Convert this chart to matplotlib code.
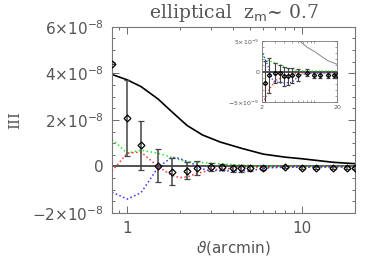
import numpy as np
import matplotlib
matplotlib.use('Agg')
import matplotlib.pyplot as plt
from matplotlib.ticker import MultipleLocator, FuncFormatter, NullFormatter, FixedLocator

# data (y values in units of 1e-8)
theta_pts = [0.82, 1.0, 1.2, 1.5, 1.8, 2.2, 2.5, 3.0, 3.5, 4.0, 4.5, 5.0, 6.0, 8.0, 10.0, 12.0, 15.0, 18.0, 20.0]
sig_pts = [4.4, 2.09, 0.91, 0.04, -0.22, -0.18, -0.06, -0.02, -0.03, -0.08, -0.08, -0.06, -0.06, -0.02, -0.05, -0.05, -0.05, -0.05, -0.05]
err_pts = [0.0, 1.63, 1.06, 0.72, 0.58, 0.36, 0.29, 0.16, 0.14, 0.15, 0.14, 0.12, 0.10, 0.06, 0.05, 0.05, 0.05, 0.05, 0.05]

theta_model = [0.82, 1.0, 1.2, 1.5, 1.8, 2.2, 2.7, 3.4, 4.5, 6.0, 8.0, 10.0, 15.0, 20.0]
model = [3.95, 3.72, 3.43, 2.9, 2.35, 1.76, 1.35, 1.05, 0.78, 0.53, 0.40, 0.33, 0.18, 0.12]

theta_green = [0.82, 1.0, 1.2, 1.5, 1.8, 2.2, 3.0, 4.0, 5.4, 8.0, 20.0]
green = [1.17, 0.57, 0.70, 0.57, 0.39, 0.20, 0.145, 0.08, 0.02, 0.01, 0.01]

theta_red = [0.82, 1.0, 1.2, 1.5, 1.8, 2.0, 2.2, 2.5, 3.0, 4.0, 5.0, 8.0, 20.0]
red = [-0.2, 0.57, 0.62, 0.0, -0.38, -0.48, -0.45, -0.3, -0.15, -0.08, -0.04, -0.02, -0.02]

theta_blue = [0.82, 1.0, 1.2, 1.5, 1.8, 2.0, 2.4, 2.8, 3.5, 5.0, 6.4, 8.0, 20.0]
blue = [-1.1, -1.4, -1.13, -0.05, 0.4, 0.34, 0.1, -0.15, -0.19, -0.18, -0.06, -0.03, -0.02]

scale = 1e-8
sig_pts = np.array(sig_pts) * scale
err_pts = np.array(err_pts) * scale
model = np.array(model) * scale
green = np.array(green) * scale
red = np.array(red) * scale
blue = np.array(blue) * scale

gray = '#555555'
c_green, c_red, c_blue = '#22ee22', '#ff3333', '#3333ff'

plt.rcParams['mathtext.fontset'] = 'dejavusans'

fig = plt.figure(figsize=(3.74, 2.67), dpi=100)
ax = fig.add_axes([0.2995, 0.202, 0.6495, 0.698])


def draw(a, curve_color, curve_lw, ms, cap, elw, dot_lw):
    a.axhline(0, color='#333333', lw=1.2, zorder=1)
    a.plot(theta_model, model, color=curve_color, lw=curve_lw, zorder=2)
    a.plot(theta_green, green, ':', color=c_green, lw=dot_lw, zorder=2)
    a.plot(theta_red, red, ':', color=c_red, lw=dot_lw, zorder=2)
    a.plot(theta_blue, blue, ':', color=c_blue, lw=dot_lw, zorder=2)
    a.errorbar(theta_pts, sig_pts, yerr=err_pts, fmt='D', color='black',
               ecolor='#444444', elinewidth=elw, capsize=cap, capthick=elw,
               markersize=ms, mfc='none', mew=0.9, zorder=3)


def sci(v, exp):
    n = int(round(v / 10.0 ** exp))
    if n == 0:
        return '0'
    sign = '\u2212' if n < 0 else ''
    return sign + '%d\u00d710$^{\u2212%d}$' % (abs(n), -exp)


draw(ax, 'black', 1.2, 3.5, 2.2, 1.1, 1.1)
ax.set_xscale('log')
ax.set_xlim(0.82, 20)
ax.set_ylim(-2e-8, 6e-8)
ax.yaxis.set_major_locator(MultipleLocator(2e-8))
ax.yaxis.set_minor_locator(MultipleLocator(0.5e-8))
ax.yaxis.set_major_formatter(FuncFormatter(lambda v, p: sci(v, -8)))
ax.xaxis.set_major_formatter(FuncFormatter(lambda v, p: '%d' % v))
ax.xaxis.set_minor_formatter(NullFormatter())
ax.tick_params(which='both', direction='in', top=True, right=True,
               colors=gray, labelcolor=gray, labelsize=11, width=0.6)
ax.tick_params(which='major', length=5, pad=6)
ax.tick_params(which='minor', length=2.5)
for s in ax.spines.values():
    s.set_color('#777777')
    s.set_linewidth(0.8)

ax.set_xlabel(r'$\vartheta$(arcmin)', fontsize=11, color=gray, labelpad=2)
ax.set_ylabel('III', fontsize=11, color=gray, family='DejaVu Serif')
ax.yaxis.set_label_coords(-0.37, 0.5)
ax.set_title(r'elliptical  z$_\mathrm{m}$~ 0.7', fontsize=13.5, color=gray,
             family='DejaVu Serif', pad=6)

# inset
ins = fig.add_axes([0.700, 0.618, 0.201, 0.228])
draw(ins, '#888888', 0.7, 2.2, 1.2, 0.8, 0.9)
ins.set_xscale('log')
ins.set_xlim(2, 20)
ins.set_ylim(-5e-9, 5e-9)
ins.xaxis.set_major_locator(FixedLocator([2, 20]))
ins.xaxis.set_major_formatter(FuncFormatter(lambda v, p: '%d' % v))
ins.xaxis.set_minor_locator(FixedLocator([3, 4, 5, 6, 7, 8, 9, 10]))
ins.xaxis.set_minor_formatter(NullFormatter())
ins.yaxis.set_major_locator(FixedLocator([-5e-9, 0, 5e-9]))
ins.yaxis.set_major_formatter(FuncFormatter(lambda v, p: sci(v, -9)))
ins.yaxis.set_minor_locator(MultipleLocator(1e-9))
ins.tick_params(which='both', direction='in', top=True, right=True,
                colors=gray, labelcolor=gray, labelsize=4.5, width=0.4, pad=2)
ins.tick_params(which='major', length=2.5)
ins.tick_params(which='minor', length=1.3)
for s in ins.spines.values():
    s.set_color('#777777')
    s.set_linewidth(0.6)

fig.savefig('out.png', dpi=100)
